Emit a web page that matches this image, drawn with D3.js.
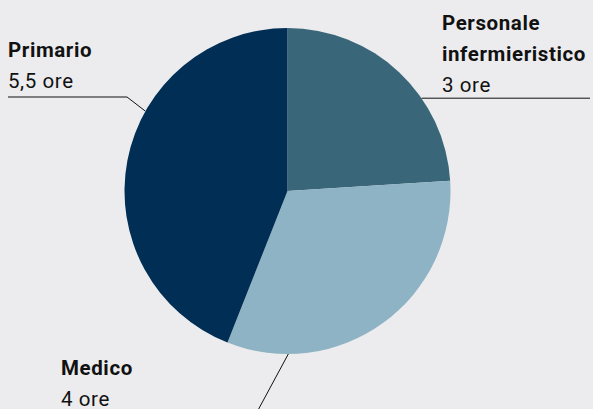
<!DOCTYPE html>
<html>
<head>
<meta charset="utf-8">
<script src="https://cdn.jsdelivr.net/npm/d3@7"></script>
<style>
  body { margin: 0; background: #ececee; }
  svg { display: block; }
  text { font-family: Roboto, sans-serif; fill: #111; letter-spacing: 0.6px; }
</style>
</head>
<body>
<div class="chart"></div>
<script>
const categories = ['Personale infermieristico', 'Medico', 'Primario']
const hours = [3, 4, 5.5]
const valueLabels = ['3 ore', '4 ore', '5,5 ore']
const colors = ['#3a6679', '#8eb3c4', '#002e54']

const width = 593
const height = 409
const cx = 287.5
const cy = 191
const radius = 163

const svg = d3.select('.chart').append('svg').attr('width', width).attr('height', height)
const g = svg.append('g').attr('transform', `translate(${cx}, ${cy})`)

const pie = d3.pie().sort(null).value(d => d.value)
const arc = d3.arc().innerRadius(0).outerRadius(radius)

const data = categories.map((c, i) => ({ name: c, value: hours[i], label: valueLabels[i], color: colors[i] }))
const arcs = pie(data)

g.selectAll('path')
  .data(arcs)
  .join('path')
  .attr('d', arc)
  .attr('fill', d => d.data.color)

// label layout: where the leader leaves the pie (fraction across the slice), elbow, and text block
const layout = [
  { t: 0.64, elbow: [590, null], text: [442, 30], lines: ['Personale', 'infermieristico'] },
  { t: 0.81, elbow: [250, 425], end: [60, 425], text: [61, 375], lines: ['Medico'] },
  { t: 0.617, elbow: [127, 97], end: [8, 97], text: [8, 57], lines: ['Primario'] }
]

const lineH = 31
arcs.forEach((a, i) => {
  const L = layout[i]
  const ang = a.startAngle + (a.endAngle - a.startAngle) * L.t
  const px = cx + radius * Math.sin(ang)
  const py = cy - radius * Math.cos(ang)
  let pts
  if (L.elbow[1] === null) {
    pts = [[px, py], [L.elbow[0], py]]
  } else {
    pts = [[px, py], L.elbow, L.end]
  }
  svg.append('path')
    .attr('d', d3.line()(pts))
    .attr('fill', 'none')
    .attr('stroke', '#111')
    .attr('stroke-width', 1)

  const t = svg.append('text').attr('x', L.text[0]).attr('y', L.text[1]).attr('font-size', 20.5)
  L.lines.forEach((ln, j) => {
    t.append('tspan').attr('x', L.text[0]).attr('dy', j === 0 ? 0 : lineH)
      .attr('font-weight', 700).text(ln)
  })
  t.append('tspan').attr('x', L.text[0]).attr('dy', lineH).attr('font-weight', 400).text(a.data.label)
})
</script>
</body>
</html>
